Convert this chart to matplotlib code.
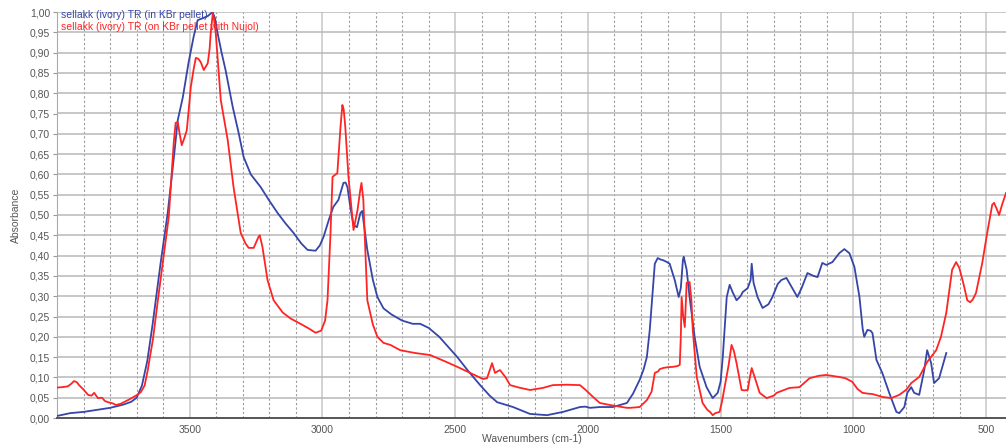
import matplotlib.pyplot as plt
import numpy as np
from matplotlib.ticker import FuncFormatter, MultipleLocator


# ============================================================
# DATI (letti dal grafico di riferimento)
# ============================================================

kbr_wn = [
    4000, 3950, 3900, 3850, 3800, 3750, 3720, 3700, 3680, 3660, 3640, 3628,
    3610, 3583, 3560, 3545, 3526, 3504, 3485, 3470, 3450, 3432, 3414, 3405,
    3395, 3380, 3365, 3338, 3315, 3297, 3270, 3233, 3200, 3169, 3140, 3109,
    3080, 3056, 3026, 3010, 2996, 2975, 2959, 2940, 2921, 2913, 2906, 2895,
    2883, 2870, 2857, 2850, 2846, 2831, 2810, 2793, 2770, 2740, 2700, 2660,
    2632, 2600, 2560, 2530, 2492, 2450, 2406, 2370, 2342, 2282, 2218, 2154,
    2094, 2030, 2010, 1992, 1955, 1906, 1880, 1853, 1830, 1805, 1790, 1778,
    1767, 1755, 1748, 1737, 1725, 1718, 1705, 1692, 1673, 1658, 1650, 1642,
    1639, 1628, 1617, 1598, 1579, 1553, 1530, 1511, 1500, 1492, 1477, 1466,
    1455, 1440, 1425, 1417, 1398, 1387, 1383, 1376, 1361, 1342, 1320, 1305,
    1285, 1271, 1252, 1230, 1211, 1195, 1173, 1150, 1135, 1117, 1102, 1079,
    1053, 1034, 1015, 996, 977, 965, 959, 947, 935, 928, 913, 891, 865, 838,
    827, 808, 797, 782, 771, 752, 733, 722, 707, 696, 677, 650,
]
kbr_abs = [
    0.005, 0.012, 0.015, 0.020, 0.025, 0.033, 0.040, 0.050, 0.080, 0.140,
    0.230, 0.290, 0.380, 0.505, 0.640, 0.734, 0.790, 0.877, 0.940, 0.980,
    0.985, 0.990, 1.000, 0.985, 0.948, 0.900, 0.857, 0.766, 0.700, 0.643,
    0.600, 0.569, 0.535, 0.505, 0.480, 0.456, 0.430, 0.414, 0.412, 0.425,
    0.446, 0.490, 0.520, 0.537, 0.579, 0.580, 0.569, 0.520, 0.475, 0.470,
    0.505, 0.510, 0.488, 0.414, 0.340, 0.298, 0.270, 0.255, 0.240, 0.232,
    0.232, 0.222, 0.200, 0.178, 0.150, 0.115, 0.081, 0.055, 0.039, 0.027,
    0.010, 0.007, 0.015, 0.027, 0.028, 0.025, 0.027, 0.027, 0.032, 0.037,
    0.060, 0.094, 0.120, 0.150, 0.217, 0.320, 0.380, 0.394, 0.390, 0.389,
    0.385, 0.380, 0.340, 0.298, 0.320, 0.390, 0.397, 0.365, 0.298, 0.200,
    0.126, 0.076, 0.049, 0.062, 0.090, 0.150, 0.298, 0.328, 0.310, 0.290,
    0.300, 0.310, 0.320, 0.340, 0.380, 0.333, 0.298, 0.271, 0.280, 0.298,
    0.330, 0.340, 0.345, 0.320, 0.298, 0.320, 0.357, 0.350, 0.347, 0.382,
    0.377, 0.384, 0.406, 0.416, 0.406, 0.372, 0.298, 0.220, 0.200, 0.217,
    0.215, 0.209, 0.143, 0.111, 0.062, 0.015, 0.012, 0.027, 0.062, 0.076,
    0.062, 0.057, 0.118, 0.167, 0.135, 0.086, 0.098, 0.160,
]

nujol_wn = [
    4000, 3980, 3959, 3945, 3936, 3925, 3917, 3900, 3883, 3870, 3860, 3846,
    3830, 3820, 3808, 3790, 3778, 3760, 3748, 3730, 3711, 3695, 3684, 3670,
    3658, 3650, 3639, 3620, 3600, 3579, 3560, 3553, 3545, 3538, 3530, 3520,
    3511, 3496, 3485, 3477, 3468, 3459, 3447, 3432, 3425, 3421, 3413, 3408,
    3402, 3383, 3357, 3335, 3308, 3290, 3278, 3259, 3241, 3236, 3226, 3207,
    3184, 3150, 3120, 3083, 3050, 3026, 3005, 2990, 2981, 2970, 2962, 2944,
    2932, 2925, 2920, 2914, 2902, 2883, 2868, 2858, 2853, 2846, 2831, 2810,
    2793, 2770, 2744, 2707, 2650, 2594, 2540, 2492, 2440, 2395, 2380, 2361,
    2350, 2340, 2331, 2310, 2293, 2260, 2218, 2170, 2132, 2080, 2030, 2010,
    1981, 1955, 1917, 1880, 1853, 1842, 1805, 1778, 1760, 1748, 1735, 1730,
    1718, 1700, 1680, 1662, 1654, 1650, 1647, 1641, 1635, 1628, 1617, 1610,
    1605, 1590, 1568, 1550, 1540, 1530, 1520, 1504, 1495, 1485, 1470, 1459,
    1450, 1440, 1421, 1410, 1398, 1390, 1383, 1372, 1353, 1327, 1300, 1289,
    1241, 1203, 1165, 1130, 1102, 1053, 1030, 1004, 985, 966, 945, 928, 891,
    857, 827, 800, 782, 752, 722, 688, 670, 650, 628, 613, 601, 585, 571,
    560, 550, 538, 515, 496, 477, 470, 460, 451, 440, 425,
]
nujol_abs = [
    0.075, 0.076, 0.078, 0.085, 0.091, 0.088, 0.081, 0.070, 0.057, 0.055,
    0.062, 0.049, 0.050, 0.042, 0.039, 0.036, 0.032, 0.035, 0.039, 0.045,
    0.052, 0.058, 0.064, 0.080, 0.118, 0.150, 0.192, 0.290, 0.390, 0.495,
    0.680, 0.727, 0.729, 0.700, 0.672, 0.690, 0.709, 0.815, 0.860, 0.887,
    0.885, 0.877, 0.857, 0.874, 0.910, 0.948, 0.997, 0.980, 0.948, 0.783,
    0.685, 0.569, 0.456, 0.430, 0.419, 0.419, 0.446, 0.450, 0.421, 0.340,
    0.290, 0.260, 0.245, 0.232, 0.220, 0.210, 0.215, 0.240, 0.290, 0.450,
    0.594, 0.603, 0.717, 0.771, 0.760, 0.717, 0.594, 0.463, 0.512, 0.560,
    0.579, 0.537, 0.290, 0.230, 0.200, 0.185, 0.180, 0.167, 0.160, 0.155,
    0.140, 0.126, 0.110, 0.096, 0.098, 0.135, 0.111, 0.115, 0.118, 0.100,
    0.081, 0.075, 0.069, 0.074, 0.081, 0.082, 0.081, 0.070, 0.052, 0.037,
    0.032, 0.028, 0.025, 0.025, 0.027, 0.044, 0.065, 0.111, 0.115, 0.120,
    0.123, 0.125, 0.126, 0.128, 0.131, 0.200, 0.298, 0.250, 0.224, 0.333,
    0.335, 0.290, 0.217, 0.101, 0.037, 0.020, 0.015, 0.007, 0.012, 0.015,
    0.040, 0.076, 0.130, 0.180, 0.165, 0.135, 0.069, 0.068, 0.069, 0.100,
    0.123, 0.101, 0.062, 0.049, 0.055, 0.062, 0.074, 0.076, 0.098, 0.104,
    0.106, 0.101, 0.098, 0.089, 0.072, 0.062, 0.060, 0.059, 0.052, 0.049,
    0.057, 0.070, 0.086, 0.101, 0.138, 0.167, 0.200, 0.259, 0.365, 0.384,
    0.370, 0.330, 0.290, 0.285, 0.292, 0.308, 0.380, 0.455, 0.525, 0.530,
    0.515, 0.500, 0.525, 0.554,
]

labels = [
    "sellakk (ivory) TR (in KBr pellet)",
    "sellakk (ivory) TR (on KBr pellet with Nujol)",
]
colors = ["#3545a8", "#ff2424"]

x_ticks = [3500, 3000, 2500, 2000, 1500, 1000, 500]


# ============================================================
# GRAFICO
# ============================================================

plt.rcParams["font.family"] = ["Liberation Sans", "DejaVu Sans"]

fig = plt.figure(figsize=(10.06, 4.45), dpi=100)
ax = fig.add_axes([57 / 1006, 27 / 445, 949 / 1006, 406 / 445])

# griglia: verticali tratteggiate ogni 100, continue ogni 500
for wn in range(4000, 400, -100):
    if wn % 500 == 0:
        ax.axvline(wn, color="#cccccc", lw=1.2, zorder=0)
    else:
        ax.axvline(wn, color="#9a9a9a", lw=0.8, ls=(0, (2, 2)), zorder=0)

for val in np.arange(0.05, 1.0001, 0.05):
    ax.axhline(val, color="#b8b8b8", lw=1.1, zorder=0)

ax.plot(kbr_wn, kbr_abs, color=colors[0], lw=1.3, zorder=3)
ax.plot(nujol_wn, nujol_abs, color=colors[1], lw=1.3, zorder=4)

ax.set_xlim(4000, 425)
ax.set_ylim(0, 1.0)

ax.set_xticks(x_ticks)
ax.yaxis.set_major_locator(MultipleLocator(0.05))
ax.yaxis.set_major_formatter(
    FuncFormatter(lambda v, pos: f"{v:.2f}".replace(".", ","))
)

ax.tick_params(axis="x", length=0, pad=5, labelsize=7.5, labelcolor="#555555")
ax.tick_params(
    axis="y", length=3, width=0.8, color="#999999",
    pad=2, labelsize=7.5, labelcolor="#555555",
)

for side in ["top", "right"]:
    ax.spines[side].set_visible(False)
ax.spines["left"].set_color("#aaaaaa")
ax.spines["left"].set_linewidth(0.8)
ax.spines["bottom"].set_color("#555555")
ax.spines["bottom"].set_linewidth(1.4)

ax.set_xlabel("Wavenumbers (cm-1)", fontsize=7.5, color="#555555", labelpad=-1)
ax.set_ylabel("Absorbance", fontsize=7.5, color="#555555", labelpad=6)

# legenda come testo in alto a sinistra
ax.text(0.004, 0.993, labels[0], transform=ax.transAxes, color=colors[0],
        fontsize=7.5, va="center", ha="left", zorder=5)
ax.text(0.004, 0.962, labels[1], transform=ax.transAxes, color=colors[1],
        fontsize=7.5, va="center", ha="left", zorder=5)

fig.savefig("out.png", dpi=100)
